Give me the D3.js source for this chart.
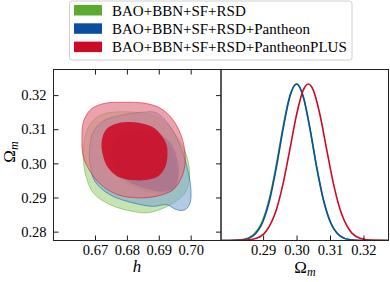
<!DOCTYPE html>
<html>
<head>
<meta charset="utf-8">
<script src="https://cdn.jsdelivr.net/npm/d3@7"></script>
<style>
  body { margin: 0; background: #fff; }
  svg { display: block; font-family: 'Liberation Serif', 'Times New Roman', serif; }
  .axis line { stroke: #000; stroke-width: 0.9; }
</style>
</head>
<body>
<script>
'use strict';

// legend / series
var labels = ['BAO+BBN+SF+RSD', 'BAO+BBN+SF+RSD+Pantheon', 'BAO+BBN+SF+RSD+PantheonPLUS'];
var colors = ['#5aab2e', '#0a4f9f', '#cc0a25'];
var lightColors = ['#9fd27f', '#7fa6d0', '#e0707f'];

var hTicks  = [0.67, 0.68, 0.69, 0.70];
var omTicks = [0.28, 0.29, 0.30, 0.31, 0.32];
var omTicks1d = [0.29, 0.30, 0.31, 0.32];

// 2D contours, [h, Omega_m] (95% outer, 68% inner)
var greenOuter = [[0.6667,0.3070],[0.6684,0.3114],[0.6716,0.3141],[0.6757,0.3150],[0.6820,0.3150],[0.6872,0.3143],
  [0.6913,0.3126],[0.6956,0.3079],[0.6988,0.3021],[0.6996,0.2952],[0.6982,0.2913],[0.6946,0.2884],[0.6872,0.2856],
  [0.6820,0.2859],[0.6747,0.2879],[0.6695,0.2913],[0.6672,0.2962],[0.6663,0.3021]];
var greenInner = [[0.6747,0.3034],[0.6766,0.3070],[0.6804,0.3087],[0.6851,0.3090],[0.6898,0.3078],[0.6935,0.3049],
  [0.6952,0.3005],[0.6958,0.2961],[0.6946,0.2923],[0.6913,0.2911],[0.6866,0.2917],[0.6819,0.2931],[0.6772,0.2961],
  [0.6750,0.2996]];
var blueOuter = [[0.6684,0.3050],[0.6695,0.3094],[0.6726,0.3124],[0.6778,0.3140],[0.6851,0.3150],[0.6893,0.3148],
  [0.6935,0.3109],[0.6972,0.3040],[0.6988,0.2991],[0.7000,0.2932],[0.6998,0.2884],[0.6982,0.2864],[0.6956,0.2864],
  [0.6925,0.2879],[0.6883,0.2874],[0.6820,0.2884],[0.6747,0.2908],[0.6700,0.2947],[0.6684,0.3001]];
var blueInner = [[0.6753,0.3040],[0.6772,0.3076],[0.6810,0.3093],[0.6857,0.3096],[0.6904,0.3084],[0.6941,0.3055],
  [0.6958,0.3011],[0.6963,0.2967],[0.6951,0.2929],[0.6919,0.2917],[0.6872,0.2923],[0.6825,0.2937],[0.6778,0.2967],
  [0.6756,0.3002]];
var redOuter = [[0.6659,0.3070],[0.6664,0.3123],[0.6688,0.3159],[0.6731,0.3176],[0.6794,0.3179],[0.6857,0.3176],
  [0.6904,0.3162],[0.6941,0.3132],[0.6968,0.3087],[0.6981,0.3040],[0.6982,0.2996],[0.6971,0.2958],[0.6945,0.2923],
  [0.6894,0.2904],[0.6832,0.2899],[0.6769,0.2909],[0.6716,0.2940],[0.6678,0.2987],[0.6662,0.3026]];
var redInner = [[0.6721,0.3065],[0.6735,0.3099],[0.6763,0.3115],[0.6800,0.3121],[0.6841,0.3118],[0.6879,0.3107],
  [0.6907,0.3084],[0.6924,0.3055],[0.6927,0.3020],[0.6919,0.2987],[0.6898,0.2962],[0.6860,0.2951],[0.6816,0.2951],
  [0.6772,0.2961],[0.6741,0.2987],[0.6725,0.3023]];

// 1D marginals of Omega_m, normalised to peak = 1
var omGrid = [0.2775,0.280,0.284,0.287,0.290,0.292,0.294,0.296,0.298,0.300,0.302,0.304,0.306,0.308,0.310,0.313,0.316,0.320,0.3275];
var greenP = [0,0.0003,0.006,0.035,0.135,0.278,0.49,0.73,0.925,1.0,0.918,0.714,0.468,0.261,0.123,0.029,0.0045,0.0002,0];
var blueP  = [0,0.0002,0.0048,0.030,0.125,0.264,0.472,0.717,0.920,1.0,0.920,0.717,0.472,0.264,0.125,0.030,0.0048,0.0002,0];
var redGrid = [0.2775,0.280,0.285,0.288,0.291,0.294,0.296,0.298,0.300,0.302,0.3035,0.305,0.307,0.309,0.311,0.313,0.316,0.319,0.322,0.3275];
var redP    = [0,0.00005,0.0023,0.0138,0.062,0.200,0.367,0.583,0.804,0.961,1.0,0.961,0.804,0.583,0.367,0.200,0.062,0.0138,0.0023,0];

var contours = [
  {outer: greenOuter, inner: greenInner, i: 0, a: [0.6, 0.45]},
  {outer: blueOuter,  inner: blueInner,  i: 1, a: [0.6, 0.45]},
  {outer: redOuter,   inner: redInner,   i: 2, a: [0.65, 0.88]}
];
var marginals = [
  {x: omGrid,  p: greenP, color: colors[0]},
  {x: omGrid,  p: blueP,  color: colors[1]},
  {x: redGrid, p: redP,   color: colors[2]}
];

{ // INIT
  var width = 390, height = 282;
  var serif = "'Liberation Serif', 'Times New Roman', serif";

  var svg = d3.select('body').append('svg')
      .attr('width', width)
      .attr('height', height);

  var xH  = d3.scaleLinear().domain([0.657, 0.7095]).range([53.5, 221]);
  var yOm = d3.scaleLinear().domain([0.2774, 0.3275]).range([240.5, 69.5]);
  var xOm = d3.scaleLinear().domain([0.2774, 0.3275]).range([221, 388.5]);
  var yP  = d3.scaleLinear().domain([0, 1.093]).range([240.5, 69.5]);

  var defs = svg.append('defs');
  defs.append('clipPath').attr('id', 'clipL').append('rect')
      .attr('x', 53.5).attr('y', 69.5).attr('width', 167.5).attr('height', 171);
  defs.append('clipPath').attr('id', 'clipR').append('rect')
      .attr('x', 221).attr('y', 69.5).attr('width', 167.5).attr('height', 171);

  // 2D panel
  var shape = d3.line()
      .x(function(d) { return xH(d[0]); })
      .y(function(d) { return yOm(d[1]); })
      .curve(d3.curveCatmullRomClosed.alpha(0.5));

  var plane = svg.append('g').attr('clip-path', 'url(#clipL)');
  contours.forEach(function(c) {
    var g = plane.append('g');
    g.append('path')
        .attr('d', shape(c.outer))
        .attr('fill', lightColors[c.i])
        .attr('fill-opacity', c.a[0]);
    g.append('path')
        .attr('d', shape(c.inner))
        .attr('fill', colors[c.i])
        .attr('fill-opacity', c.a[1]);
    g.append('path')
        .attr('d', shape(c.outer))
        .attr('fill', 'none')
        .attr('stroke', colors[c.i])
        .attr('stroke-opacity', 0.5)
        .attr('stroke-width', 1);
  });

  // 1D panel
  var curve = svg.append('g').attr('clip-path', 'url(#clipR)');
  marginals.forEach(function(m) {
    var pts = m.x.map(function(v, i) { return [v, m.p[i]]; });
    curve.append('path')
        .attr('d', d3.line()
          .x(function(d) { return xOm(d[0]); })
          .y(function(d) { return yP(d[1]); })
          .curve(d3.curveMonotoneX)(pts))
        .attr('fill', 'none')
        .attr('stroke', m.color)
        .attr('stroke-width', 1.6);
  });

  // axes, ticks pointing in
  svg.append('g').attr('class', 'axis')
      .attr('transform', 'translate(0,240.5)')
      .call(d3.axisBottom(xH).tickValues(hTicks).tickFormat(d3.format('.2f'))
        .tickSize(-5).tickSizeOuter(0).tickPadding(4.5));
  svg.append('g').attr('class', 'axis')
      .attr('transform', 'translate(0,69.5)')
      .call(d3.axisTop(xH).tickValues(hTicks).tickFormat('').tickSize(-5).tickSizeOuter(0));
  svg.append('g').attr('class', 'axis')
      .attr('transform', 'translate(53.5,0)')
      .call(d3.axisLeft(yOm).tickValues(omTicks).tickFormat(d3.format('.2f'))
        .tickSize(-5).tickSizeOuter(0).tickPadding(7));
  svg.append('g').attr('class', 'axis')
      .attr('transform', 'translate(221,0)')
      .call(d3.axisRight(yOm).tickValues(omTicks).tickFormat('').tickSize(-5).tickSizeOuter(0));
  svg.append('g').attr('class', 'axis')
      .attr('transform', 'translate(0,240.5)')
      .call(d3.axisBottom(xOm).tickValues(omTicks1d).tickFormat(d3.format('.2f'))
        .tickSize(-5).tickSizeOuter(0).tickPadding(4.5));
  svg.selectAll('.axis .domain').remove();
  svg.selectAll('.axis')
      .attr('font-family', serif)
      .attr('font-size', 14.5);
  svg.selectAll('.axis text').attr('fill', '#000');

  // frames
  svg.append('rect')
      .attr('x', 53.5).attr('y', 69.5).attr('width', 167.5).attr('height', 171)
      .attr('fill', 'none').attr('stroke', '#222').attr('stroke-width', 1);
  svg.append('rect')
      .attr('x', 221).attr('y', 69.5).attr('width', 167.5).attr('height', 171)
      .attr('fill', 'none').attr('stroke', '#222').attr('stroke-width', 1);

  // axis labels
  svg.append('text')
      .attr('x', 137).attr('y', 272)
      .attr('text-anchor', 'middle')
      .style('font-size', '17px').style('font-style', 'italic')
      .text('h');

  var xl = svg.append('text')
      .attr('x', 305).attr('y', 273)
      .attr('text-anchor', 'middle')
      .style('font-size', '17px');
  xl.append('tspan').text('Ω');
  xl.append('tspan').attr('dy', 3).style('font-size', '12px').style('font-style', 'italic').text('m');

  var yl = svg.append('text')
      .attr('transform', 'translate(15,152) rotate(-90)')
      .attr('text-anchor', 'middle')
      .style('font-size', '17px');
  yl.append('tspan').text('Ω');
  yl.append('tspan').attr('dy', 3).style('font-size', '12px').style('font-style', 'italic').text('m');

  // legend
  var legend = svg.append('g');
  legend.append('rect')
      .attr('x', 69.5).attr('y', 1).attr('width', 282.5).attr('height', 59)
      .attr('rx', 2.5)
      .attr('fill', '#fff').attr('stroke', '#d0d0d0').attr('stroke-width', 1);
  labels.forEach(function(t, i) {
    legend.append('rect')
        .attr('x', 74).attr('y', 5 + i * 18.3)
        .attr('width', 28).attr('height', 10.5)
        .attr('fill', colors[i]);
    legend.append('text')
        .attr('x', 112).attr('y', 15.5 + i * 18.3)
        .style('font-size', '15px')
        .text(t);
  });
}
</script>
</body>
</html>
